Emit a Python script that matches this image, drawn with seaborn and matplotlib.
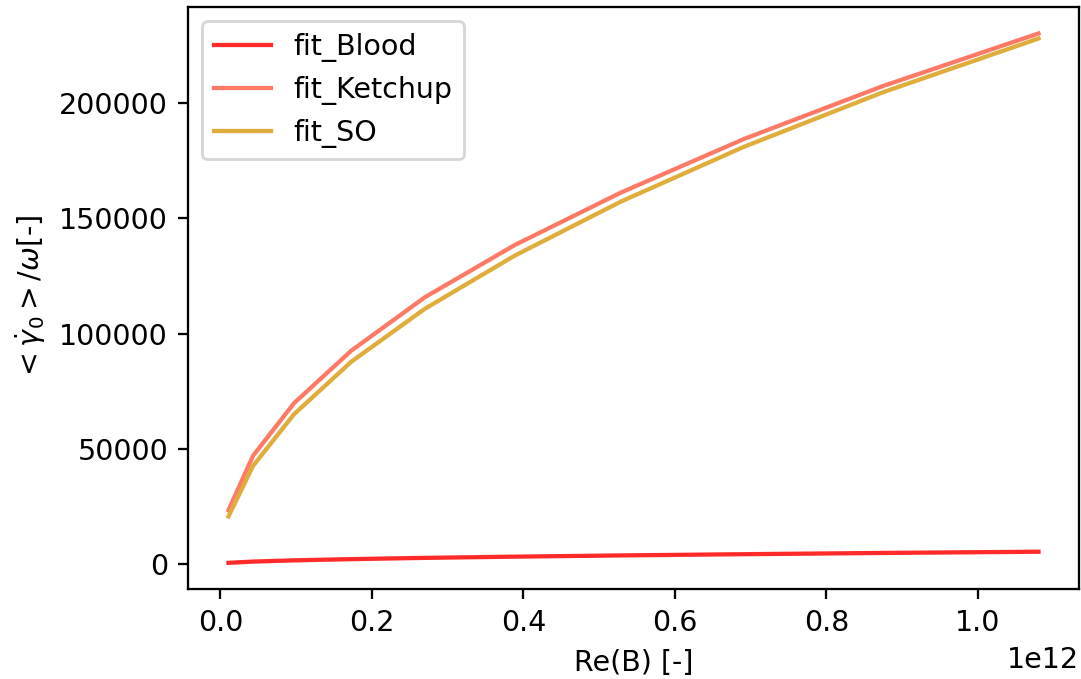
import matplotlib
matplotlib.use("Agg")
import matplotlib.pyplot as plt
import seaborn as sns
import pandas as pd

re_b = [0.0108e12, 0.0432e12, 0.0972e12, 0.1728e12, 0.27e12,
        0.3888e12, 0.5292e12, 0.6912e12, 0.8748e12, 1.08e12]
fit_blood = [530, 1070, 1600, 2140, 2680, 3210, 3750, 4280, 4820, 5350]
fit_ketchup = [23400, 47000, 69800, 92600, 115800, 138500, 161300, 184500, 207500, 230300]
fit_so = [20700, 42600, 65000, 87800, 110800, 133900, 157400, 181100, 204800, 228100]
labels = ["fit_Blood", "fit_Ketchup", "fit_SO"]
colors = ["#ff2b2b", "#ff7a66", "#dead3c"]

df = pd.concat([
    pd.DataFrame({"x": re_b, "y": fit_blood, "series": labels[0]}),
    pd.DataFrame({"x": re_b, "y": fit_ketchup, "series": labels[1]}),
    pd.DataFrame({"x": re_b, "y": fit_so, "series": labels[2]}),
])

DPI = 205
fig = plt.figure(figsize=(1081 / DPI, 679 / DPI), dpi=DPI)
ax = fig.add_axes([188 / 1081, 1 - 589.3 / 679, (1079 - 188) / 1081, (589.3 - 7) / 679])
sns.lineplot(data=df, x="x", y="y", hue="series", palette=dict(zip(labels, colors)),
             ax=ax, linewidth=1.5)
handles, lbls = ax.get_legend_handles_labels()
ax.legend(handles, lbls, loc="upper left")
ax.set_xlabel("Re(B) [-]")
ax.set_ylabel(r"$<\dot{\gamma}_0>/\omega$[-]")
fig.savefig("out.png", dpi=DPI)
